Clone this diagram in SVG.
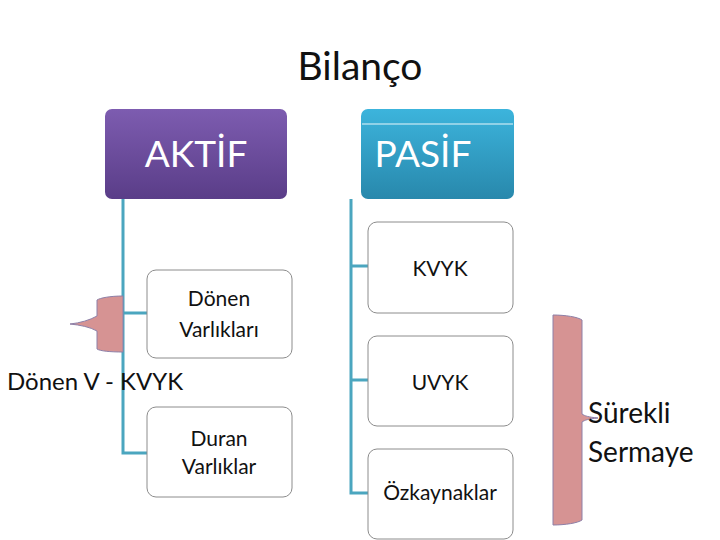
<svg xmlns="http://www.w3.org/2000/svg" width="720" height="540" viewBox="0 0 720 540">
<defs>
<linearGradient id="gP" x1="0" y1="0" x2="0" y2="1"><stop offset="0" stop-color="#7d5cb0"/><stop offset="1" stop-color="#5a3d88"/></linearGradient>
<linearGradient id="gB" x1="0" y1="0" x2="0" y2="1"><stop offset="0" stop-color="#3cb4dc"/><stop offset="1" stop-color="#2888ac"/></linearGradient>
<style>
text{font-family:Lato,"Open Sans","Liberation Sans",sans-serif;}
.box{fill:#fff;stroke:#8c8c8c;stroke-width:1;}
.lbl{font-size:21px;fill:#111;text-anchor:middle;}
.hd{font-size:37px;fill:#fff;text-anchor:middle;}
.con{fill:none;stroke:#4ba6bf;stroke-width:3;}
.brace{fill:#d69393;stroke:#8d80a8;stroke-width:1;}
</style>
</defs>
<rect width="720" height="540" fill="#fff"/>
<text x="360" y="80" font-size="39" text-anchor="middle" fill="#111">Bilanço</text>
<g id="connectors">
<path class="con" d="M123 199V453H147M123 313H147"/>
<path class="con" d="M351 199V493H368M351 266H368M351 380H368"/>
</g>
<g id="brace-left"><path class="brace" d="M123 296 C110 296 100 298 97 300 L97 316 C90 320 80 323 70 324 C80 325 90 327 97 331 L97 349 C100 351 110 352 123 352 Z"/></g>
<g id="brace-right"><path class="brace" d="M553 315 C565 315 578 317 582 320 L582 414 C585 416 588 417 598 418 C588 419 585 420 582 422 L582 520 C578 523 565 525 553 525 Z"/></g>
<g id="aktif"><rect x="105" y="109" width="182" height="90" rx="7" fill="url(#gP)"/><text class="hd" x="196" y="167">AKTİF</text></g>
<g id="pasif"><rect x="361" y="109" width="153" height="90" rx="7" fill="url(#gB)"/><line x1="362" y1="124" x2="513" y2="124" stroke="#e8f6fb" stroke-width="1"/><text class="hd" x="423" y="167">PASİF</text></g>
<g id="donen"><rect class="box" x="147" y="270" width="145" height="88" rx="9"/><text class="lbl" x="219" y="306">Dönen</text><text class="lbl" x="219" y="337">Varlıkları</text></g>
<g id="duran"><rect class="box" x="147" y="407" width="145" height="90" rx="9"/><text class="lbl" x="219" y="446">Duran</text><text class="lbl" x="219" y="474">Varlıklar</text></g>
<g id="kvyk"><rect class="box" x="368" y="222" width="145" height="91" rx="9"/><text class="lbl" x="440" y="276">KVYK</text></g>
<g id="uvyk"><rect class="box" x="368" y="336" width="145" height="90" rx="9"/><text class="lbl" x="440" y="390">UVYK</text></g>
<g id="ozk"><rect class="box" x="368" y="449" width="145" height="90" rx="9" stroke="#7fb8c8"/><text class="lbl" x="440" y="500">Özkaynaklar</text></g>
<text x="7" y="390" font-size="24" fill="#111">Dönen V - KVYK</text>
<text x="588" y="423" font-size="28" fill="#111">Sürekli</text>
<text x="588" y="462" font-size="28" fill="#111">Sermaye</text>
</svg>
